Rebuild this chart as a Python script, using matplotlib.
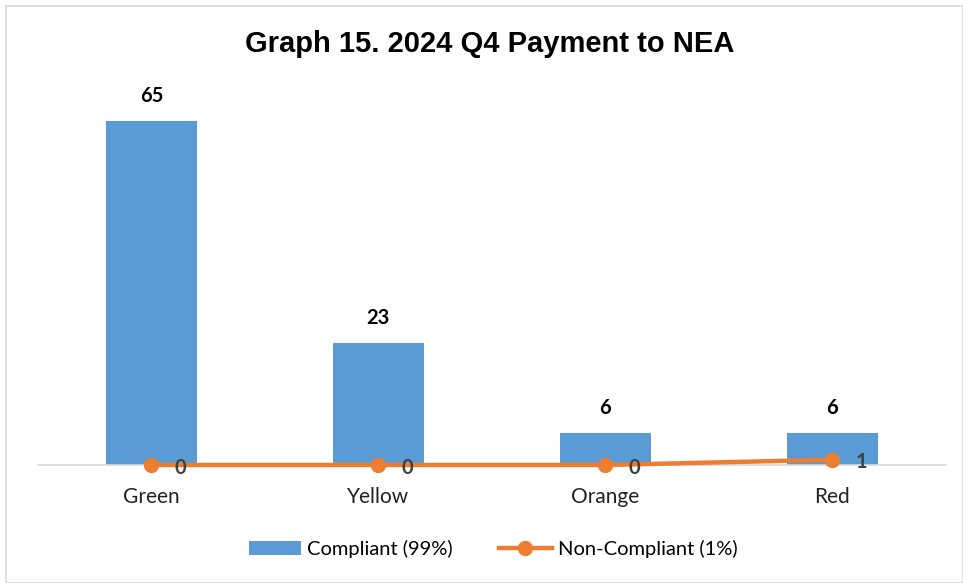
import matplotlib
matplotlib.use("Agg")
from matplotlib import pyplot as plt
import matplotlib.patches as patches

categories = ["Green", "Yellow", "Orange", "Red"]
compliant = [65, 23, 6, 6]
non_compliant = [0, 0, 0, 1]

blue = "#5B9BD5"
orange = "#ED7D31"
label_font = "Lato"

fig = plt.figure(figsize=(9.63, 5.83), dpi=100)
ax = fig.add_axes([0.0395, 0.2024, 0.9425, 0.635])

x = list(range(len(categories)))
bars = ax.bar(x, compliant, width=0.4, color=blue, label="Compliant (99%)", zorder=2)
ax.plot(x, non_compliant, color=orange, lw=3.2, marker="o", markersize=10,
        label="Non-Compliant (1%)", zorder=3, clip_on=False)

for xi, v in zip(x, compliant):
    ax.annotate(str(v), (xi, v), xytext=(0, 18), textcoords="offset points",
                ha="center", va="center", fontsize=14.5, fontweight="bold",
                family=label_font, color="black")
for xi, v in zip(x, non_compliant):
    ax.annotate(str(v), (xi, v), xytext=(21, -2), textcoords="offset points",
                ha="center", va="center", fontsize=14.5, fontweight="bold",
                family=label_font, color="#404040")

ax.set_xlim(-0.5, len(categories) - 0.5)
ax.set_ylim(0, 70)
ax.set_yticks([])
ax.set_xticks(x)
ax.set_xticklabels(categories, fontsize=15, family=label_font, color="#222222")
ax.tick_params(axis="x", length=0, pad=16)
for side in ["top", "right", "left"]:
    ax.spines[side].set_visible(False)
ax.spines["bottom"].set_color("#D9D9D9")
ax.spines["bottom"].set_linewidth(1.2)

fig.text(0.508, 0.925, "Graph 15. 2024 Q4 Payment to NEA", ha="center", va="center",
         fontsize=21, fontweight="bold", family="Liberation Sans")

handles, labels = ax.get_legend_handles_labels()
order = [labels.index("Compliant (99%)"), labels.index("Non-Compliant (1%)")]
leg = fig.legend([handles[i] for i in order], [labels[i] for i in order],
                 loc="center", bbox_to_anchor=(0.512, 0.058), ncol=2, frameon=False,
                 prop={"family": label_font, "size": 14.5}, handlelength=2.6,
                 columnspacing=2.3, handletextpad=0.3)

fig.patches.append(patches.Rectangle((0.006, 0.0), 0.994, 0.99, transform=fig.transFigure,
                                     fill=False, edgecolor="#D9D9D9", lw=1.2))

plt.savefig("out.png", dpi=100)
